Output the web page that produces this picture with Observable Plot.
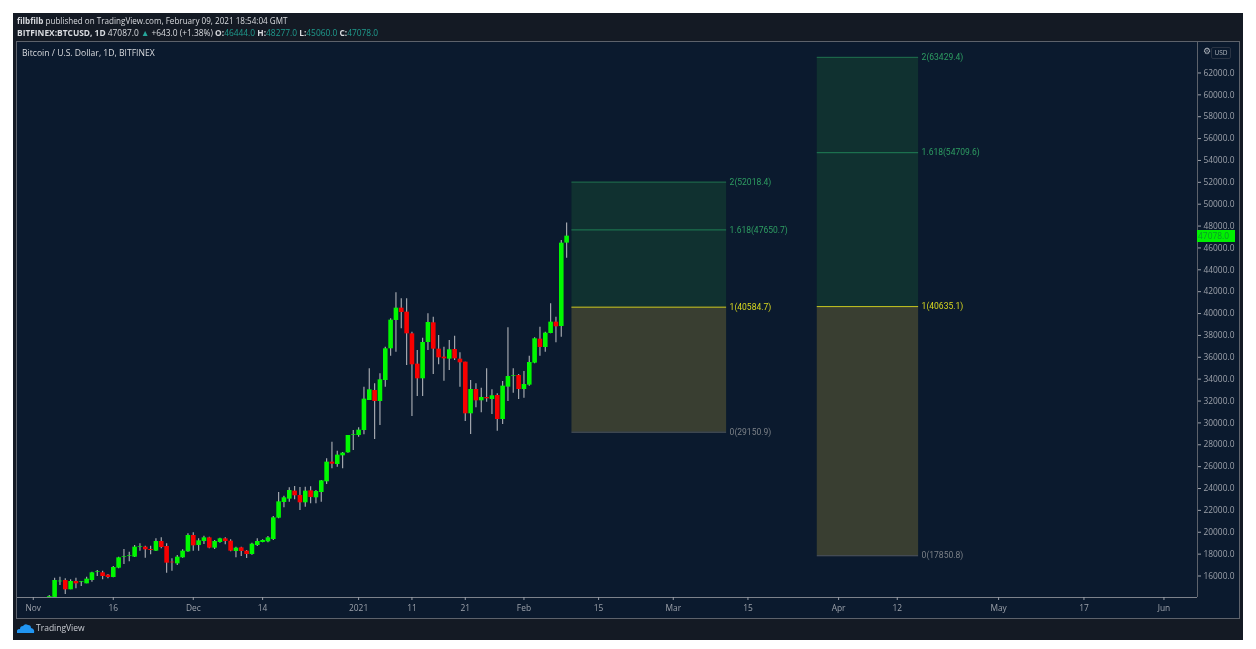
<!DOCTYPE html>
<html><head><meta charset="utf-8">
<script src="https://cdn.jsdelivr.net/npm/d3@7"></script>
<script src="https://cdn.jsdelivr.net/npm/@observablehq/plot@0.6"></script>
<style>
html,body{margin:0;padding:0;background:#fff;width:1256px;height:649px;overflow:hidden}
#wrap{position:relative;width:1256px;height:649px;font-family:"Open Sans",sans-serif;filter:blur(.4px)}
#panel{position:absolute;left:13px;top:13px;width:1230px;height:627px;background:#141a24}
#pane{position:absolute;left:17px;top:42px;width:1222px;height:576px;background:#0b1a2e;outline:1px solid #5d626b}
#chart{position:absolute;left:17px;top:42px}
.t{position:absolute;white-space:nowrap;font-size:8.6px;line-height:11px;color:#d8dade}
.t b{font-weight:700}.t i{font-style:normal;color:#1f9c8e}
#box{position:absolute;left:1197px;width:38px;height:12px;background:#00f000;color:#0a9a2a;font-size:8.4px;line-height:12px;text-align:right;box-sizing:border-box;padding-right:6px}
#usd{position:absolute;left:1211px;top:47px;width:18px;height:10px;border:1px solid #2a3444;border-radius:2px;color:#aeb3bb;font-size:6.5px;line-height:10px;text-align:center}
</style></head><body>
<div id="wrap">
<div id="panel"></div><div id="pane"></div>
<div id="chart"></div>
<div class="t" style="left:17px;top:15px;font-size:8.1px"><b>filbfilb</b> published on TradingView.com, February 09, 2021 18:54:04 GMT</div>
<div class="t" style="left:17px;top:27px;font-size:8.4px"><b>BITFINEX:BTCUSD, 1D</b> 47087.0 <span style="color:#26a69a">▲</span> +643.0 (+1.38%) <b>O:</b><i>46444.0</i> <b>H:</b><i>48277.0</i> <b>L:</b><i>45060.0</i> <b>C:</b><i>47078.0</i></div>
<div class="t" style="left:22px;top:48px">Bitcoin / U.S. Dollar, 1D, BITFINEX</div>
<div class="t" style="left:1203px;top:46px;color:#aeb3bb">⚙</div><div id="usd">USD</div>
<div id="box">47078.0</div>
<svg style="position:absolute;left:17px;top:622px" width="18" height="12" viewBox="0 0 18 12"><path d="M0 11 Q-1 7 3 7 Q3 4 6 4 Q8 1 11 3 Q14 3 14 6 Q18 7 17 11 Z" fill="#2196f3"/></svg>
<div class="t" style="left:36px;top:622px;font-size:8.5px;color:#c9ccd2">TradingView</div>
</div>
<script>
const firstDay = new Date(Date.UTC(2020,10,4));
const opens = [14050,14040,15470,15589,14736,15498,15406,15284,15589,16320,16290,16077,15863,16717,17692,17814,17723,18637,18637,18424,18271,19155,18698,17265,17113,17662,18210,
19704,18789,19155,19490,18546,19064,19399,19185,18241,18576,18271,17966,18789,19064,19125,19338,21289,22723,23028,23760,23363,22693,23790,23150,23638,24613,26411,26198,26991,27265,28880,
28850,29307,32050,32965,31959,33879,36775,39366,40493,40128,38146,35373,34032,37354,39152,36744,36013,35830,36714,35830,35556,30832,33057,32020,32325,32142,32508,30313,33270,34245,34337,
33057,33453,35465,37659,36897,38177,39214,38817,46444];
const highs = [14220,15802,15894,15741,15650,15802,15498,15894,16351,16503,16442,16138,16869,17723,18424,18180,18789,18942,18728,18728,19399,19490,18942,17570,17875,18393,19856,
19947,19399,19643,19551,19247,19460,19490,19308,18637,18637,18332,19003,19399,19308,19612,21441,23636,23303,24065,24186,24095,24125,24156,23821,24735,26716,28240,27417,27295,28850,29307,
29551,33269,34946,33574,34489,36927,39518,41895,41347,41347,38299,36622,37750,39975,39670,37994,36927,37537,37933,36409,35556,33880,33575,33179,34946,33026,32660,33788,38695,34946,34428,
34703,36105,37781,38756,38299,40890,39671,46681,48277];
const lows = [14040,14034,15132,14309,14736,14827,15040,15284,15437,15955,15650,15741,15833,16656,17052,17296,17692,18271,17631,17936,18241,18485,16260,16442,16961,17631,18180,
18271,18271,18881,18485,18424,19003,18850,18210,17662,17784,17601,17905,18698,19033,19033,19247,21228,22236,22754,22967,21992,22297,22601,22601,22754,24369,25802,25954,25802,27235,27478,
28697,28911,32050,28484,29764,33270,36104,36470,38604,35251,30587,32416,32416,36622,34428,35312,33818,34794,35708,33270,30130,28942,31380,30923,31899,30771,29247,29856,31959,32721,32142,
32264,33361,35404,36105,36470,38147,37324,37842,45060];
const closes = [14130,15589,15528,14736,15498,15284,15467,15711,16290,16381,15955,15863,16778,17662,17753,17875,18637,18698,18393,18332,19155,18606,17174,17204,17723,18271,19704,
18759,19216,19490,18546,19155,19399,19155,18271,18546,18241,17966,18911,19155,19247,19490,21319,22782,23150,23821,23333,22693,23760,23181,23729,24704,26411,26229,27051,27235,28850,28941,
29337,32172,33026,31959,33940,36775,39396,40493,40097,38146,35312,34032,37354,39183,36744,35952,35860,36683,35860,35495,30831,33057,32020,32325,32203,32478,30313,33361,34245,34306,33057,
33514,35525,37690,36897,38208,39214,38787,46437,47078];

const yTicks = [16000,18000,20000,22000,24000,26000,28000,30000,32000,34000,36000,38000,40000,42000,44000,46000,48000,50000,52000,54000,56000,58000,60000,62000];
const xTickDates = ["2020-11-01","2020-11-16","2020-12-01","2020-12-14","2021-01-01","2021-01-11","2021-01-21","2021-02-01","2021-02-15","2021-03-01","2021-03-15","2021-04-01","2021-04-12","2021-05-01","2021-05-17","2021-06-01"];
const xTickLabels = ["Nov","16","Dec","14","2021","11","21","Feb","15","Mar","15","Apr","12","May","17","Jun"];

const zoneStart = ["2021-02-10","2021-03-28"];
const zoneEnd = ["2021-03-11","2021-04-16"];
const level2 = [52018.4,63429.4];
const level1618 = [47650.7,54709.6];
const level1 = [40584.7,40635.1];
const level0 = [29150.9,17850.8];
const xDomain = ["2020-10-29T01:00Z","2021-06-07T07:00Z"];
const yDomain = [14034,64787];

const dt = s => new Date(s);
const candles = opens.map((o,i)=>({date:d3.utcDay.offset(firstDay,i),o,h:highs[i],l:lows[i],c:closes[i],up:closes[i]>=o}));
const zones = zoneStart.map((s,i)=>({x1:dt(s),x2:dt(zoneEnd[i]),l2:level2[i],l16:level1618[i],l1:level1[i],l0:level0[i]}));
const levelRows = zones.flatMap(z=>[
  {x1:z.x1,x2:z.x2,v:z.l2,k:"2",c:"#1f6f4f",tc:"#2e9d62",w:400},
  {x1:z.x1,x2:z.x2,v:z.l16,k:"1.618",c:"#1f7f55",tc:"#2e9d62",w:400},
  {x1:z.x1,x2:z.x2,v:z.l1,k:"1",c:"#c8c820",tc:"#d8d820",w:700},
  {x1:z.x1,x2:z.x2,v:z.l0,k:"0",c:"#555a60",tc:"#7b8087",w:400}]);
const axisColor = "#9ca1aa";

const plot = Plot.plot({
  width:1222,height:576,marginLeft:0,marginRight:42,marginTop:0,marginBottom:21,
  style:{background:"transparent",fontFamily:"'Open Sans',sans-serif",fontSize:"8.4px"},
  x:{type:"utc",domain:xDomain.map(dt),label:null},
  y:{type:"linear",domain:yDomain,label:null},
  marks:[
    Plot.rect(zones,{x1:"x1",x2:"x2",y1:"l1",y2:"l2",fill:"#103130"}),
    Plot.rect(zones,{x1:"x1",x2:"x2",y1:"l0",y2:"l1",fill:"#393e31"}),
    Plot.ruleY(levelRows,{x1:"x1",x2:"x2",y:"v",stroke:"c",strokeWidth:1}),
    Plot.text(levelRows,{x:"x2",y:"v",dx:3,textAnchor:"start",fill:"tc",fontWeight:"w",fontFamily:"Roboto",fontSize:8.5,text:d=>`${d.k}(${d.v.toFixed(1)})`}),
    Plot.ruleX(candles,{x:"date",y1:"l",y2:"h",stroke:"#a2a6ad",strokeWidth:1.2}),
    Plot.ruleX(candles,{x:"date",y1:"o",y2:"c",stroke:d=>d.up?"#00f800":"#f80000",strokeWidth:4.6}),
    Plot.ruleY([yDomain[0]],{stroke:"#7d828b"}),
    Plot.ruleX([dt(xDomain[1])],{stroke:"#5d626b"}),
    Plot.axisY({anchor:"right",ticks:yTicks,tickFormat:d=>d3.format(".1f")(d),tickSize:3,tickPadding:3,color:axisColor,label:null}),
    Plot.axisX({ticks:xTickDates.map(dt),tickFormat:d=>xTickLabels[xTickDates.findIndex(s=>+dt(s)===+d)],tickSize:3,tickPadding:5,color:axisColor,label:null})
  ]
});
document.getElementById("chart").appendChild(plot);
document.getElementById("box").style.top=(42+plot.scale("y").apply(closes[closes.length-1])-6)+"px";
</script>
</body></html>
